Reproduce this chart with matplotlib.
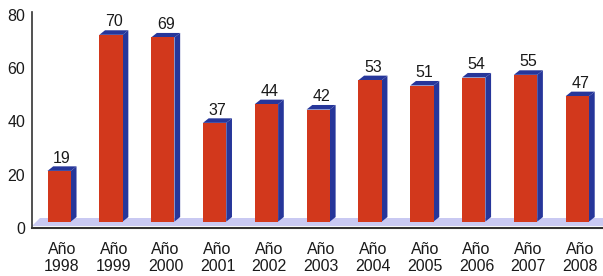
import matplotlib
matplotlib.use("Agg")
import matplotlib.pyplot as plt
from matplotlib.patches import Polygon

years = ["1998", "1999", "2000", "2001", "2002", "2003", "2004", "2005", "2006", "2007", "2008"]
values = [19, 70, 69, 37, 44, 42, 53, 51, 54, 55, 47]
tick_labels = ["Año\n" + y for y in years]

plt.rcParams['font.family'] = ['Liberation Sans', 'DejaVu Sans']

fig = plt.figure(figsize=(6.03, 2.76), dpi=100)
ax = fig.add_axes([0.053, 0.174, 0.947, 0.783])

red = '#d2381c'
blue = '#26369a'
floor = '#c9c9f2'

w = 0.45      # front face width
dx = 0.11     # depth offset x (data units)
dy = 1.7      # depth offset y (data units)
base = 2.4    # front face bottom (sits on floor)

# floor
ax.add_patch(Polygon([(-0.58, 0.75), (10.6, 0.75), (10.6, 3.7), (-0.42, 3.7)],
                     closed=True, color=floor, lw=0, zorder=1))

for i, v in enumerate(values):
    x0 = i - w / 2 - dx / 2
    x1 = x0 + w
    top = base + v
    # side face
    ax.add_patch(Polygon([(x1, base), (x1 + dx, base + dy), (x1 + dx, top + dy), (x1, top)],
                         closed=True, color=blue, lw=0, zorder=2))
    # top face
    ax.add_patch(Polygon([(x0, top), (x0 + dx, top + dy), (x1 + dx, top + dy), (x1, top)],
                         closed=True, color=blue, lw=0, zorder=2))
    # front face
    ax.bar(x0, v, width=w, bottom=base, align='edge', color=red, lw=0, zorder=3)
    ax.text(i, top + dy + 0.3, str(v), ha='center', va='bottom', fontsize=11.5, color='#1a1a1a')

ax.set_xlim(-0.58, 10.44)
ax.set_ylim(0, 81)
ax.set_yticks([0, 20, 40, 60, 80])
ax.set_xticks(range(len(years)))
ax.set_xticklabels(tick_labels, fontsize=11.5, color='#1a1a1a', linespacing=1.15)
ax.tick_params(axis='y', length=0, labelsize=11.5, labelcolor='#1a1a1a', pad=5)
ax.tick_params(axis='x', length=0, pad=10)
ax.spines['top'].set_visible(False)
ax.spines['right'].set_visible(False)
ax.spines['left'].set_color('#333333')
ax.spines['bottom'].set_color('#333333')
ax.spines['left'].set_linewidth(1.2)
ax.spines['bottom'].set_linewidth(1.5)

fig.savefig("out.png", dpi=100, facecolor='white')
